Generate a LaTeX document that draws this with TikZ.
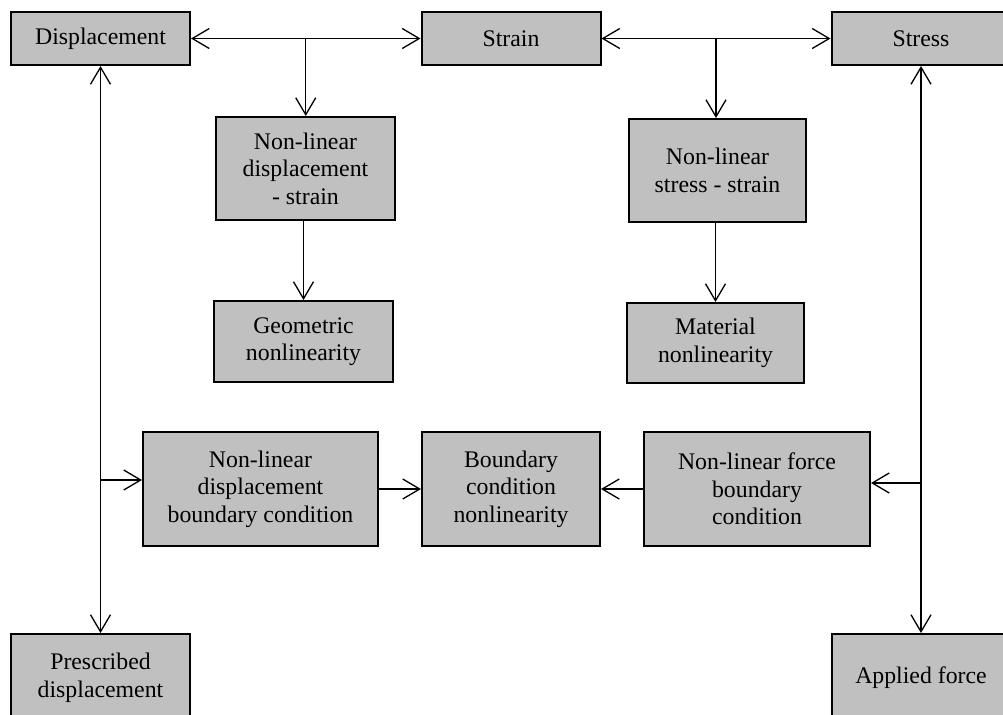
\documentclass[tikz,border=0pt]{standalone}
\usepackage{fontspec}
\setmainfont{Liberation Serif}
\usetikzlibrary{arrows.meta,positioning,calc}
\definecolor{boxgray}{RGB}{192,192,192}

\begin{document}
\begin{tikzpicture}[
    x=0.5pt,y=-0.5pt,
    blk/.style={rectangle,draw=black,fill=boxgray,line width=1pt,
      minimum width=89.5pt,minimum height=26.5pt,align=center,inner sep=2pt,
      font=\fontsize{11.9}{13.8}\selectfont},
    arrow/.style={-{Straight Barb[length=8.5pt,width=10pt]},line width=0.65pt},
    twoway/.style={{Straight Barb[length=8.5pt,width=10pt]}-{Straight Barb[length=8.5pt,width=10pt]},line width=0.65pt}
  ]
    \useasboundingbox (0,0) rectangle (1003,714);

    % top row
    \node[blk] (disp) at (100.5,38.5) {Displacement};
    \node[blk] (strain) at (511,38.5) {Strain};
    \node[blk] (stress) at (921,38.5) {Stress};

    % material and geometric branches
    \node[blk,minimum height=51.5pt] (nlds) at (305.5,168.5) {Non-linear\\displacement\\- strain};
    \node[blk,minimum height=40.5pt] (geom) at (303.5,341.5) {Geometric\\nonlinearity};
    \node[blk,minimum width=88.5pt,minimum height=51.5pt] (nlss) at (717.5,170.5) {Non-linear\\stress - strain};
    \node[blk,minimum width=88.5pt,minimum height=40pt] (mat) at (715.5,343) {Material\\nonlinearity};

    % boundary condition row
    \node[blk,minimum width=117.5pt,minimum height=57pt] (nldbc) at (260.5,489) {Non-linear\\displacement\\boundary condition};
    \node[blk,minimum width=89pt,minimum height=57pt] (bcn) at (511,489) {Boundary\\condition\\nonlinearity};
    \node[blk,minimum width=113pt,minimum height=57pt] (nlfbc) at (757,489) {Non-linear force\\boundary\\condition};

    % bottom row
    \node[blk,minimum height=44pt] (presc) at (100.5,678) {Prescribed\\displacement};
    \node[blk,minimum height=44pt] (applied) at (921,678) {Applied force};

    \coordinate (j1) at ($(disp.east)!0.5!(strain.west)$);
    \coordinate (j2) at ($(strain.east)!0.5!(stress.west)$);
    \coordinate (bl) at (100.5,480);
    \coordinate (br) at (921,483);

    \draw[twoway] (disp.east) -- (strain.west);
    \draw[twoway] (strain.east) -- (stress.west);
    \draw[arrow] (j1) -- (j1 |- nlds.north);
    \draw[arrow] (j2) -- (j2 |- nlss.north);
    \draw[arrow] (geom.north |- nlds.south) -- (geom.north);
    \draw[arrow] (mat.north |- nlss.south) -- (mat.north);

    \draw[twoway] (disp.south) -- (presc.north);
    \draw[twoway] (stress.south) -- (applied.north);
    \draw[arrow] (bl) -- (bl -| nldbc.west);
    \draw[arrow] (br) -- (br -| nlfbc.east);
    \draw[arrow] (nldbc) -- (bcn);
    \draw[arrow] (nlfbc) -- (bcn);
  \end{tikzpicture}
\end{document}
